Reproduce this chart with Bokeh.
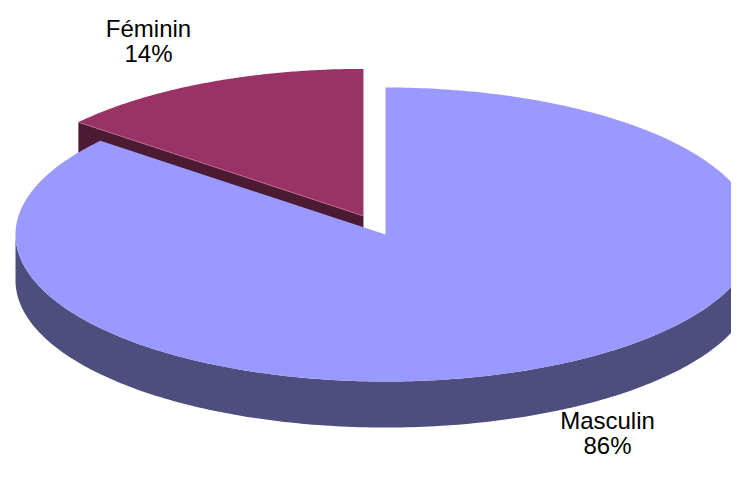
import numpy as np
from bokeh.plotting import figure
from bokeh.models import Range1d, ColumnDataSource
from bokeh.core.properties import value
from bokeh.embed import file_html
from bokeh.resources import INLINE

# ---- data ----
categories = ["Masculin", "Féminin"]
values = [86, 14]
pct_labels = ["86%", "14%"]

# ---- styling / geometry (pixel-like data space) ----
top_colors = {"Masculin": "#9999FF", "Féminin": "#993366"}
side_colors = {"Masculin": "#4D4D7E", "Féminin": "#4D1A33"}
CX, CY = 385.0, 234.0
RX, RY = 370.0, 147.0
DEPTH = 46.0
EXPLODE = {"Masculin": 0.0, "Féminin": 0.14}

W, H = 731, 461
p = figure(width=W, height=H, x_range=Range1d(0, W), y_range=Range1d(H, 0),
           output_backend="svg", toolbar_location=None, min_border=0)
p.axis.visible = False
p.grid.visible = False
p.outline_line_color = None
p.background_fill_color = "white"
p.border_fill_color = "white"


def arc(cx, cy, a0, a1, n, dz=0.0):
    th = np.radians(np.linspace(a0, a1, n))
    return (cx + RX * np.cos(th)).tolist(), (cy - RY * np.sin(th) + dz).tolist()


total = float(sum(values))
start = 90.0
slices = {}
for cat, v in zip(categories, values):
    sweep = 360.0 * v / total
    a0, a1 = start, start - sweep  # clockwise
    mid = np.radians((a0 + a1) / 2.0)
    e = EXPLODE[cat]
    cx = float(CX + e * RX * np.cos(mid))
    cy = float(CY - e * RY * np.sin(mid))
    slices[cat] = (a0, a1, cx, cy)
    start = a1

# --- Féminin (back, exploded): cut face at its start angle + top ---
a0, a1, cx, cy = slices["Féminin"]
fx, fy = arc(cx, cy, a0, a0, 1)
ex, ey = fx[0], fy[0]
p.varea(x=[ex, cx], y1=[ey, cy], y2=[ey + DEPTH, cy + DEPTH],
        fill_color=side_colors["Féminin"])
xs, ys = arc(cx, cy, a0, a1, 120)
p.patch([cx] + xs, [cy] + ys, fill_color=top_colors["Féminin"], line_color=None)
p.line([cx, ex], [cy, ey], line_color="#C07090", line_width=1, line_alpha=0.8)

# --- Masculin ---
a0, a1, cx, cy = slices["Masculin"]
tx, ty = arc(cx, cy, 180, 360, 200)
bx, by = arc(cx, cy, 360, 180, 200, DEPTH)
p.patch(tx + bx, ty + by, fill_color=side_colors["Masculin"], line_color=None)
xs, ys = arc(cx, cy, a0, a1, 400)
p.patch([cx] + xs, [cy] + ys, fill_color=top_colors["Masculin"], line_color=None)

# --- labels (cap-middle positions) ---
label_pos = {"Masculin": (607, 420), "Féminin": (148, 28)}
lx, ly, lt = [], [], []
for cat, pl in zip(categories, pct_labels):
    x, y = label_pos[cat]
    lx += [x, x]
    ly += [y, y + 25]
    lt += [cat, pl]
src = ColumnDataSource(dict(x=lx, y=ly, text=lt))
p.text(x="x", y="y", text="text", source=src, text_align="center",
       text_baseline="middle", text_font=value("Liberation Sans"),
       text_font_size="24px", text_color="black")

open("out.html", "w").write(file_html(p, INLINE))
